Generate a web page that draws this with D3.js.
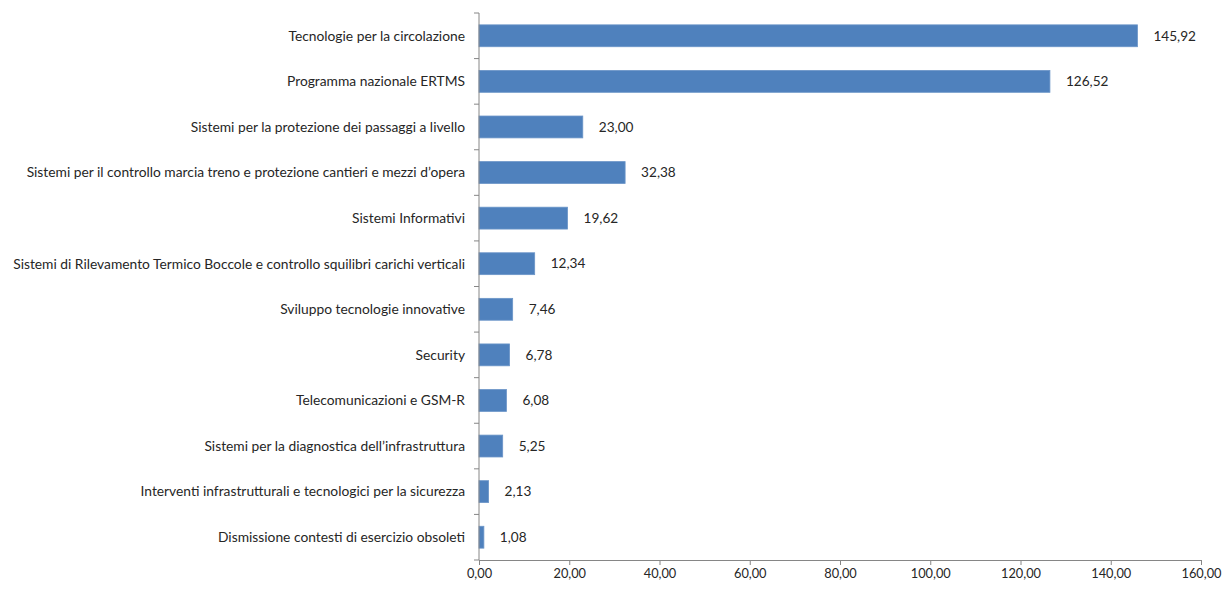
<!DOCTYPE html>
<html>
<head>
<meta charset="utf-8">
<script src="https://cdn.jsdelivr.net/npm/d3@7"></script>
<style>
  body { margin: 0; background: #fff; }
  text { font-family: Lato, "Open Sans", sans-serif; fill: #262626; }
</style>
</head>
<body>
<svg id="chart" width="1226" height="590"></svg>
<script>
// categories, top to bottom
const categories = [
  "Tecnologie per la circolazione",
  "Programma nazionale ERTMS",
  "Sistemi per la protezione dei passaggi a livello",
  "Sistemi per il controllo marcia treno e protezione cantieri e mezzi d’opera",
  "Sistemi Informativi",
  "Sistemi di Rilevamento Termico Boccole e controllo squilibri carichi verticali",
  "Sviluppo tecnologie innovative",
  "Security",
  "Telecomunicazioni e GSM-R",
  "Sistemi per la diagnostica dell’infrastruttura",
  "Interventi infrastrutturali e tecnologici per la sicurezza",
  "Dismissione contesti di esercizio obsoleti"
];
const values = [145.92, 126.52, 23.00, 32.38, 19.62, 12.34, 7.46, 6.78, 6.08, 5.25, 2.13, 1.08];
const xTicks = [0, 20, 40, 60, 80, 100, 120, 140, 160];

const svg = d3.select("#chart");
const mLeft = 479, mRight = 1201, mTop = 13, mBottom = 560;
const fmt = v => v.toFixed(2).replace(".", ",");

const x = d3.scaleLinear().domain([0, 160]).range([mLeft, mRight]);
const y = d3.scaleBand().domain(categories).range([mTop, mBottom]).paddingInner(0.52).paddingOuter(0.26);

// bars
svg.append("g").selectAll("rect")
  .data(values)
  .join("rect")
  .attr("x", x(0))
  .attr("y", (d, i) => y(categories[i]))
  .attr("width", d => x(d) - x(0))
  .attr("height", y.bandwidth())
  .attr("fill", "#4f81bd")
  .attr("stroke", "#6b95c8")
  .attr("stroke-width", 0.8);

// value labels
svg.append("g").selectAll("text")
  .data(values)
  .join("text")
  .attr("x", d => x(d) + 16)
  .attr("y", (d, i) => y(categories[i]) + y.bandwidth() / 2)
  .attr("dy", "0.35em")
  .attr("font-size", 13.6)
  .text(d => fmt(d));

// category labels
svg.append("g").selectAll("text")
  .data(categories)
  .join("text")
  .attr("x", mLeft - 14)
  .attr("y", d => y(d) + y.bandwidth() / 2)
  .attr("dy", "0.35em")
  .attr("text-anchor", "end")
  .attr("font-size", 13.8)
  .text(d => d);

// y axis line with ticks at category boundaries
const axisColor = "#868686";
svg.append("line")
  .attr("x1", mLeft).attr("x2", mLeft).attr("y1", mTop).attr("y2", mBottom)
  .attr("stroke", axisColor);
const step = (mBottom - mTop) / categories.length;
svg.append("g").selectAll("line")
  .data(d3.range(categories.length + 1))
  .join("line")
  .attr("x1", mLeft - 5).attr("x2", mLeft)
  .attr("y1", i => mTop + i * step).attr("y2", i => mTop + i * step)
  .attr("stroke", axisColor);

// x axis
const xAxis = d3.axisBottom(x).tickValues(xTicks).tickFormat(fmt).tickSize(5).tickSizeOuter(0);
const gx = svg.append("g").attr("transform", `translate(0,${mBottom})`).call(xAxis);
gx.select(".domain").attr("stroke", axisColor);
gx.selectAll(".tick line").attr("stroke", axisColor);
gx.selectAll(".tick text")
  .attr("font-size", 12.8)
  .attr("font-family", "Lato, sans-serif")
  .attr("fill", "#262626")
  .attr("dy", "0.75em");
</script>
</body>
</html>
